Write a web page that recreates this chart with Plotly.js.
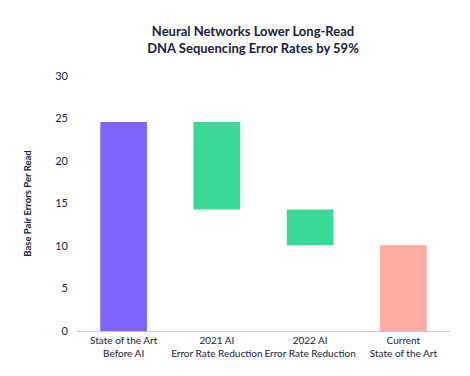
<!DOCTYPE html>
<html>
<head>
<meta charset="utf-8">
<script src="https://cdn.plot.ly/plotly-3.0.1.min.js"></script>
<style>html,body{margin:0;padding:0;background:#fff;}#chart{width:470px;height:376px;}</style>
</head>
<body>
<div id="chart"></div>
<script>
const categories = ["State of the Art<br>Before AI", "2021 AI<br>Error Rate Reduction", "2022 AI<br>Error Rate Reduction", "Current<br>State of the Art"];
const changes = [24.6, -10.3, -4.2, 10.1];
const kinds = ["absolute", "relative", "relative", "total"];
const barColors = ["#8263FF", "#3AD995", "#3AD995", "#FFAB9F"];

// compute bar bases/lengths from the running total
const bases = [], lengths = [];
let running = 0;
for (let i = 0; i < changes.length; i++) {
  if (kinds[i] === "absolute" || kinds[i] === "total") {
    running = changes[i];
    bases.push(0); lengths.push(changes[i]);
  } else {
    const next = running + changes[i];
    bases.push(Math.min(running, next));
    lengths.push(Math.abs(changes[i]));
    running = next;
  }
}

const textColor = "#1c1c3c";
const trace = {
  type: "bar",
  x: categories,
  y: lengths,
  base: bases,
  marker: {color: barColors},
  width: 0.5,
  hoverinfo: "skip"
};

const layout = {
  width: 470, height: 376,
  margin: {l: 77, r: 20, t: 76, b: 45},
  paper_bgcolor: "#fff", plot_bgcolor: "#fff",
  font: {family: "Lato, 'Open Sans', sans-serif", color: textColor, size: 10},
  showlegend: false,
  title: {
    text: "<b>Neural Networks Lower Long-Read<br>DNA Sequencing Error Rates by 59%</b>",
    x: 253/470, xanchor: "center", xref: "container",
    y: 1 - 36/376, yanchor: "top", yref: "container",
    font: {size: 13, color: textColor, family: "Lato, 'Open Sans', sans-serif"}
  },
  xaxis: {
    showgrid: false, zeroline: false,
    showline: true, linecolor: "#c9c6ee", linewidth: 1,
    ticks: "", tickangle: 0, tickfont: {size: 10, color: textColor},
    fixedrange: true
  },
  yaxis: {
    range: [0, 30], dtick: 5,
    showgrid: false, zeroline: false, showline: false,
    ticks: "", ticklabelstandoff: 8,
    tickfont: {size: 11, color: textColor},
    title: {text: "<b>Base Pair Errors Per Read</b>", font: {size: 9.5, color: textColor}, standoff: 21},
    fixedrange: true
  },
  bargap: 0.5
};

Plotly.newPlot("chart", [trace], layout, {displayModeBar: false, staticPlot: true});
</script>
</body>
</html>
